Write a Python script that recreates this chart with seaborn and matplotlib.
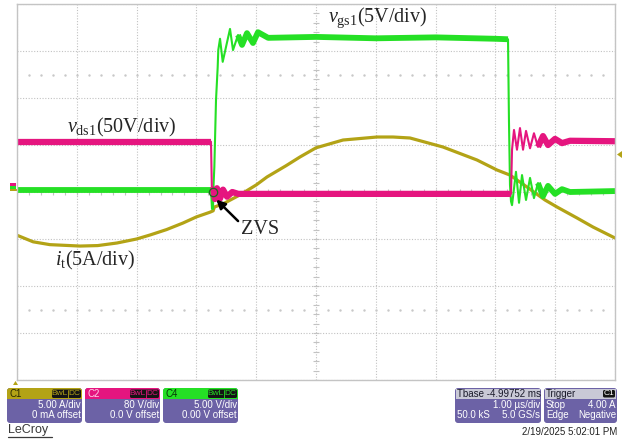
import numpy as np
import pandas as pd
import matplotlib
matplotlib.use("Agg")
import matplotlib.pyplot as plt
import seaborn as sns
from matplotlib.patches import FancyBboxPatch, Rectangle, Polygon

# ---------------- data (time in us = divisions, amplitude in screen divisions) ----
it_t = [0.0, 0.27, 0.55, 1.054, 1.35, 1.672, 2.0, 2.224, 2.5, 2.776, 3.0, 3.227, 3.28,
        3.30, 3.45, 3.73, 4.0, 4.181, 4.5, 4.732, 5.0, 5.452, 6.02, 6.288, 6.572, 7.124,
        7.692, 8.027, 8.244, 8.528, 8.829, 9.03, 9.365, 9.632, 10.0]
it_v = [-0.92, -1.06, -1.12, -1.15, -1.14, -1.085, -1.0, -0.915, -0.80, -0.66, -0.53, -0.43,
        -0.40, -0.32, -0.25, -0.06, 0.15, 0.32, 0.56, 0.745, 0.94, 1.106, 1.17, 1.17, 1.149,
        0.957, 0.681, 0.468, 0.36, 0.106, -0.17, -0.319, -0.553, -0.745, -0.979]

vds_t = [0.0, 3.244, 3.261, 3.278, 3.311, 3.344, 3.395, 3.445, 3.512, 3.6, 3.7, 5.0, 8.261,
         8.278, 8.311, 8.361, 8.411, 8.462, 8.512, 8.579, 8.645, 8.712, 8.796, 8.880, 8.997,
         9.114, 9.247, 10.0]
vds_v = [1.07, 1.07, -0.10, 0.10, -0.15, 0.08, -0.14, 0.05, -0.10, 0.0, -0.04, -0.04, -0.04,
         0.90, 1.32, 0.90, 1.36, 0.90, 1.30, 0.93, 1.25, 0.96, 1.19, 1.00, 1.13, 1.04, 1.09, 1.08]

vgs_t = [0.0, 3.244, 3.261, 3.278, 3.283, 3.30, 3.328, 3.356, 3.366, 3.395, 3.44, 3.562,
         3.612, 3.696, 3.763, 3.846, 3.946, 4.03, 4.2, 5.0, 6.0, 7.0, 8.0, 8.211, 8.227,
         8.244, 8.261, 8.278, 8.344, 8.395, 8.445, 8.512, 8.579, 8.645, 8.712, 8.796, 8.880,
         8.997, 9.114, 9.247, 10.0]
vgs_v = [0.04, 0.04, -0.36, -0.36, 0.04, 0.53, 1.96, 2.66, 3.02, 3.26, 2.77, 3.47,
         3.02, 3.34, 3.13, 3.38, 3.17, 3.40, 3.28, 3.30, 3.27, 3.29, 3.26, 3.25, 1.5,
         0.15, -0.2, -0.28, 0.43, -0.23, 0.36, -0.17, 0.30, -0.13, 0.19, -0.09, 0.13,
         -0.04, 0.06, 0.0, 0.02]

# flat (noisy) stretches drawn as a wider band
vds_flat = [(0.0, 3.244), (3.278, 8.261), (8.712, 10.0)]
vgs_flat = [(0.0, 3.244), (3.696, 8.211), (8.712, 10.0)]

ch_labels = ["C1", "C2", "C4"]
ch_scale = ["5.00 A/div", "80 V/div", "5.00 V/div"]
ch_offset = ["0 mA offset", "0.0 V offset", "0.00 V offset"]

YEL = "#b3a316"
MAG = "#e5157f"
GRN = "#25e025"
PUR = "#6c62a6"

# ---------------- figure ----------------
sns.set_style("white")
plt.rcParams["mathtext.fontset"] = "custom"
plt.rcParams["mathtext.rm"] = "Liberation Serif"
plt.rcParams["mathtext.it"] = "Liberation Serif:italic"

W, H = 624, 442
fig = plt.figure(figsize=(W / 100, H / 100), dpi=100)
fig.patch.set_facecolor("white")

pan = fig.add_axes([0, 0, 1, 1], zorder=0)
pan.set_xlim(0, W)
pan.set_ylim(H, 0)
pan.axis("off")

ax = fig.add_axes([17 / W, (H - 380) / H, 598 / W, 376 / H], zorder=2)
ax.set_xlim(0, 10)
ax.set_ylim(-4, 4)
ax.set_xticks(np.arange(0, 11))
ax.set_yticks(np.arange(-4, 5))
ax.tick_params(length=0, labelbottom=False, labelleft=False)
ax.grid(True, color="#c2c2c2", ls=(0, (1, 1.5)), lw=0.8)
for s in ax.spines.values():
    s.set_color("#c4c4c4")
    s.set_linewidth(1.0)

ymin = np.arange(-4, 4.01, 0.2)
ax.hlines(ymin, 4.95, 5.05, color="#c2c2c2", lw=0.8)
xmin = np.arange(0, 10.01, 0.2)
ax.vlines(xmin, -0.06, 0.06, color="#c2c2c2", lw=0.8)
for yy in (2.5, -2.5):
    ax.plot(xmin[1:-1], np.full(len(xmin) - 2, yy), ls="none", marker="s", ms=0.7,
            color="#c8c8c8")


def trace(t, v, color, lw, flats=(), band=0):
    df = pd.DataFrame({"t": t, "v": v})
    sns.lineplot(data=df, x="t", y="v", ax=ax, color=color, lw=lw, estimator=None,
                 sort=False, legend=False)
    for a, b in flats:
        sub = df[(df.t >= a) & (df.t <= b)]
        sns.lineplot(data=sub, x="t", y="v", ax=ax, color=color, lw=band, estimator=None,
                     sort=False, legend=False, solid_capstyle="butt")


trace(it_t, it_v, YEL, 2.3)
trace(vgs_t, vgs_v, GRN, 1.5, vgs_flat, 4.2)
trace(vds_t, vds_v, MAG, 1.5, vds_flat, 4.5)
ax.set_xlabel("")
ax.set_ylabel("")

serif = "Liberation Serif"
ax.text(5.2, 3.70, r"$v_{\mathrm{gs1}}$(5V/div)", fontsize=14.5, family=serif, va="center")
ax.text(0.836, 1.38, r"$v_{\mathrm{ds1}}$(50V/div)", fontsize=14.5, family=serif, va="center")
ax.text(0.635, -1.45, r"$i_{\mathrm{t}}$(5A/div)", fontsize=14.5, family=serif, va="center")
ax.text(3.746, -0.79, "ZVS", fontsize=14.5, family=serif, va="center")
ax.annotate("", xy=(3.30, -0.12), xytext=(3.73, -0.66),
            arrowprops=dict(arrowstyle="-|>", color="black", lw=1.8, mutation_scale=13))
ax.plot([3.28], [0.0], marker="o", ms=6, mfc="none", mec="#1a6b1a", mew=0.9)

# --------- screen markers ---------
pan.add_patch(Rectangle((10, 183), 6, 3, color=MAG, lw=0))
pan.add_patch(Rectangle((10, 186), 6, 3, color=GRN, lw=0))
pan.add_patch(Rectangle((10, 189), 7, 1.6, color=YEL, lw=0))
pan.add_patch(Polygon([[617, 154.5], [622, 151], [622, 158]], closed=True, color=YEL, lw=0))
pan.add_patch(Polygon([[15.5, 381], [13, 385], [18, 385]], closed=True, color=YEL, lw=0))

# --------- info boxes ---------
sans = "Liberation Sans"
fs = 7.0
box_x = [7, 85, 163]
box_cols = [YEL, MAG, GRN]
lab_cols = ["#2a2a00", "#ffd0e8", "#063806"]
for i in range(3):
    x0 = box_x[i]
    pan.add_patch(FancyBboxPatch((x0, 388), 75, 35, boxstyle="round,pad=0,rounding_size=3",
                                 fc=PUR, ec="none"))
    pan.add_patch(FancyBboxPatch((x0, 388), 75, 11, boxstyle="round,pad=0,rounding_size=3",
                                 fc=box_cols[i], ec="none"))
    pan.add_patch(Rectangle((x0, 394), 75, 5, fc=box_cols[i], ec="none"))
    pan.text(x0 + 2, 393.8, ch_labels[i], fontsize=fs, family=sans, color=lab_cols[i],
             va="center", ha="left")
    pan.add_patch(FancyBboxPatch((x0 + 45, 389.5), 29, 8.5, boxstyle="round,pad=0,rounding_size=1.5",
                                 fc="#141414", ec="none"))
    pan.text(x0 + 53, 393.8, "BwL", fontsize=fs - 1.0, family=sans, color=box_cols[i],
             va="center", ha="center")
    pan.text(x0 + 67.5, 393.8, "DC", fontsize=fs - 1.0, family=sans, color=box_cols[i],
             va="center", ha="center")
    pan.plot([x0 + 61, x0 + 61], [390, 397.5], color=box_cols[i], lw=0.6)
    pan.text(x0 + 74, 405, ch_scale[i], fontsize=fs, family=sans, color="white",
             va="center", ha="right")
    pan.text(x0 + 74, 415.5, ch_offset[i], fontsize=fs, family=sans, color="white",
             va="center", ha="right")

HDR = "#c9c9d6"
pan.add_patch(FancyBboxPatch((455, 388), 86, 35, boxstyle="round,pad=0,rounding_size=3",
                             fc=PUR, ec="none"))
pan.add_patch(Rectangle((456, 389), 84, 9.5, fc=HDR, ec="none"))
pan.text(457, 393.8, "Tbase -4.99752 ms", fontsize=fs, family=sans, color="#1a1a2a", va="center")
pan.text(540, 405, "1.00 \u00b5s/div", fontsize=fs, family=sans, color="white", va="center", ha="right")
pan.text(457, 415.5, "50.0 kS", fontsize=fs, family=sans, color="white", va="center", ha="left")
pan.text(540, 415.5, "5.0 GS/s", fontsize=fs, family=sans, color="white", va="center", ha="right")

pan.add_patch(FancyBboxPatch((544, 388), 73, 35, boxstyle="round,pad=0,rounding_size=3",
                             fc=PUR, ec="none"))
pan.add_patch(Rectangle((545, 389), 71, 9.5, fc=HDR, ec="none"))
pan.text(546, 393.8, "Trigger", fontsize=fs, family=sans, color="#1a1a2a", va="center")
pan.add_patch(FancyBboxPatch((603, 390), 12, 7.5, boxstyle="round,pad=0,rounding_size=1.5",
                             fc="#141414", ec="none"))
pan.text(609, 393.8, "C1", fontsize=fs - 1.0, family=sans, color="white", va="center", ha="center")
pan.text(546, 405, "Stop", fontsize=fs, family=sans, color="white", va="center")
pan.text(616, 405, "4.00 A", fontsize=fs, family=sans, color="white", va="center", ha="right")
pan.text(546, 415.5, "Edge", fontsize=fs, family=sans, color="white", va="center")
pan.text(616, 415.5, "Negative", fontsize=fs, family=sans, color="white", va="center", ha="right")

pan.text(617, 432, "2/19/2025 5:02:01 PM", fontsize=7.0, family=sans, color="#222222",
         va="center", ha="right")
pan.text(8, 430.5, "LeCroy", fontsize=9, family=sans, color="#3a3a3a", va="center",
         ha="left")
pan.plot([8, 52], [437, 437], color="#3a3a3a", lw=0.9)

fig.savefig("out.png", dpi=100, facecolor="white")
